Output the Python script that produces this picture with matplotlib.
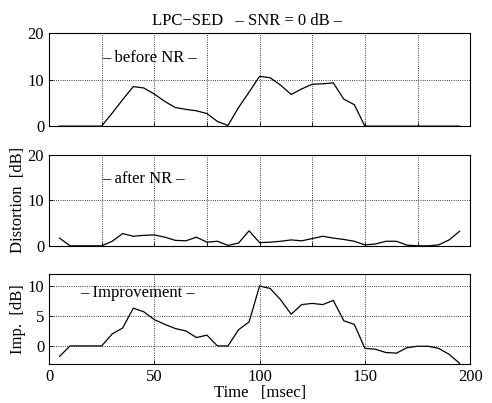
import matplotlib
matplotlib.use("Agg")
import matplotlib.pyplot as plt

plt.rcParams['font.family'] = ['Liberation Serif', 'DejaVu Serif']
plt.rcParams['font.size'] = 12
plt.rcParams['xtick.direction'] = 'in'
plt.rcParams['ytick.direction'] = 'in'

# czas w ms
t = [5, 10, 15, 20, 25, 30, 35, 40, 45, 50, 55, 60, 65, 70, 75, 80, 85, 90, 95, 100,
     105, 110, 115, 120, 125, 130, 135, 140, 145, 150, 155, 160, 165, 170, 175, 180,
     185, 190, 195]

before_nr = [0, 0, 0, 0, 0, 2.8, 5.7, 8.5, 8.2, 6.9, 5.3, 4.0, 3.6, 3.3, 2.7, 1.0, 0.15,
             4.0, 7.3, 10.7, 10.4, 8.8, 6.8, 8.0, 9.0, 9.1, 9.3, 5.8, 4.6, 0,
             0, 0, 0, 0, 0, 0, 0, 0, 0]

after_nr = [1.7, 0, 0, 0, 0, 1.0, 2.7, 2.1, 2.3, 2.4, 1.9, 1.2, 1.1, 1.9, 0.8, 1.0, 0.1,
            0.6, 3.3, 0.7, 0.8, 1.0, 1.3, 1.1, 1.6, 2.1, 1.7, 1.4, 1.0, 0.2, 0.4, 1.0,
            1.0, 0.15, 0, 0, 0.2, 1.3, 3.2]

improvement = [-1.75, 0, 0, 0, 0, 2.0, 3.0, 6.3, 5.7, 4.4, 3.6, 2.9, 2.5, 1.4, 1.8, 0, 0,
               2.7, 4.0, 10.0, 9.6, 7.7, 5.3, 6.9, 7.1, 6.9, 7.6, 4.2, 3.6, -0.4, -0.55,
               -1.1, -1.2, -0.3, -0.05, -0.05, -0.4, -1.4, -2.9]

fig = plt.figure(figsize=(4.92, 4.03), dpi=100)
ax1 = fig.add_axes([0.0996, 0.687, 0.856, 0.231])
ax2 = fig.add_axes([0.0996, 0.390, 0.856, 0.226])
ax3 = fig.add_axes([0.0996, 0.097, 0.856, 0.223])

for ax, y in [(ax1, before_nr), (ax2, after_nr)]:
    ax.plot(t, y, color='black', linewidth=0.9)
    ax.set_xlim(0, 200)
    ax.set_ylim(0, 20)
    ax.set_xticks(range(0, 201, 25))
    ax.set_xticklabels([])
    ax.set_yticks([0, 10, 20])
    ax.grid(True, color='black', linestyle=':', linewidth=0.6)

ax3.plot(t, improvement, color='black', linewidth=0.9)
ax3.set_xlim(0, 200)
ax3.set_ylim(-3, 12)
ax3.set_xticks(range(0, 201, 50))
ax3.set_yticks([0, 5, 10])
ax3.grid(True, color='black', linestyle=':', linewidth=0.6)

ax1.text(25, 14.6, "\u2013 before NR \u2013", va='center', ha='left')
ax2.text(25, 14.7, "\u2013 after NR \u2013", va='center', ha='left')
ax3.text(15, 8.8, "\u2013 Improvement \u2013", va='center', ha='left')

ax1.set_title("LPC\u2212SED   \u2013 SNR = 0 dB \u2013", fontsize=12, pad=6, x=0.47)
ax2.set_ylabel("Distortion  [dB]", labelpad=1)
ax3.set_ylabel("Imp.  [dB]", labelpad=1)
ax3.set_xlabel("Time   [msec]", labelpad=0)

for ax in (ax1, ax2, ax3):
    ax.tick_params(length=3, width=0.6)
    for s in ax.spines.values():
        s.set_linewidth(0.8)

fig.savefig("out.png", dpi=100)
